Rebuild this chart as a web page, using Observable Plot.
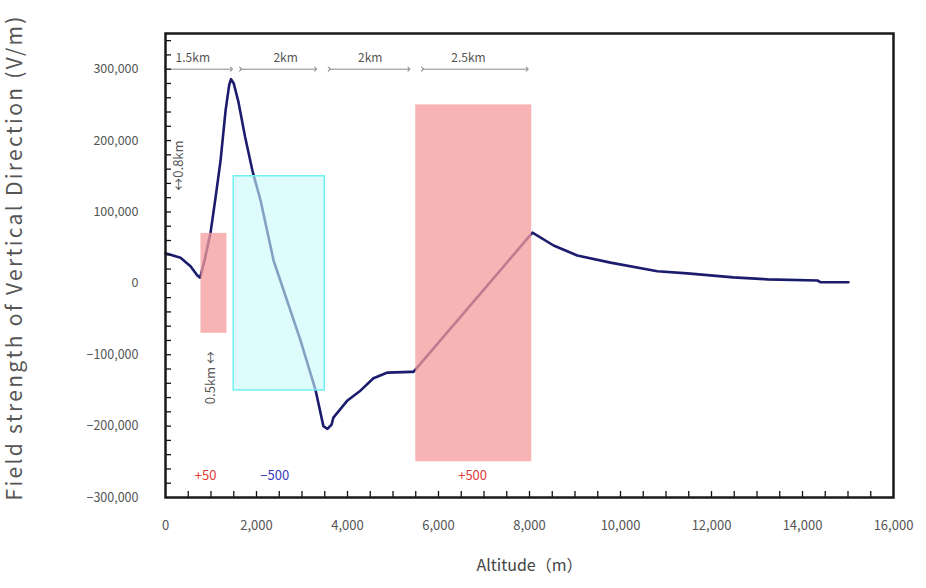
<!DOCTYPE html>
<html>
<head>
<meta charset="utf-8">
<script src="https://cdn.jsdelivr.net/npm/d3@7"></script>
<script src="https://cdn.jsdelivr.net/npm/@observablehq/plot@0.6"></script>
<style>
  html, body { margin: 0; padding: 0; background: #fff; }
  #chart svg { display: block; }
</style>
</head>
<body>
<div id="chart"></div>
<script>
// Altitude (m) and field strength (V/m)
const altitude = [0, 330, 550, 700, 760, 850, 990, 1100, 1210, 1320, 1400, 1440, 1500, 1600, 1750, 1910, 2090, 2375, 2967, 3300, 3470, 3560, 3650, 3690, 4000, 4290, 4570, 4880, 5380, 5450, 8065, 8530, 9050, 9780, 10810, 11470, 12480, 13230, 14330, 14400, 15010];
const fieldStrength = [42000, 36000, 24000, 11000, 8000, 30000, 71000, 120000, 172000, 242000, 278000, 286000, 280000, 255000, 205000, 158000, 116000, 32000, -80000, -150000, -200000, -204000, -198000, -188000, -164000, -150000, -133000, -125000, -124000, -124000, 71000, 53000, 39000, 29000, 17000, 14000, 8400, 5600, 4000, 1500, 1500];

// Charge regions (boxes)
const boxX1 = [780, 1500, 5500];
const boxX2 = [1350, 3500, 8050];
const boxY1 = [-70000, -150000, -250000];
const boxY2 = [70000, 150000, 250000];
const boxLabel = ["+50", "\u2212500", "+500"];
const boxLabelX = [880, 2400, 6750];
const boxLabelY = -270000;

// Distance arrows on top
const segStart = [0, 1650, 3600, 5650];
const segEnd = [1450, 3300, 5350, 7950];
const segLabel = ["1.5km", "2km", "2km", "2.5km"];
const segLabelX = [600, 2640, 4500, 6660];
const segY = 300000;
const segLabelY = 316000;

// Vertical distance notes
const noteText = ["\u21940.8km", "0.5km \u2194"];
const noteX = [285, 990];
const noteY = [165000, -132000];

const xTicks = d3.range(0, 16001, 2000);
const yTicks = d3.range(-300000, 300001, 100000);
const xMinor = d3.range(500, 16000, 500);
const yMinor = d3.range(-280000, 350000, 20000);

const series = altitude.map((a, i) => ({alt: a, field: fieldStrength[i]}));
const boxes = boxX1.map((x1, i) => ({x1, x2: boxX2[i], y1: boxY1[i], y2: boxY2[i], label: boxLabel[i], lx: boxLabelX[i]}));
const segs = segStart.map((s, i) => ({s, e: segEnd[i], label: segLabel[i], lx: segLabelX[i]}));
const notes = noteText.map((t, i) => ({t, x: noteX[i], y: noteY[i]}));

const font = "'Noto Sans CJK JP', 'Noto Sans', sans-serif";
const fmt = d3.format(",");
const W = 926, H = 588, ML = 165, MR = 33, MT = 33, MB = 91;
const FW = W - ML - MR, FH = H - MT - MB;

const chart = Plot.plot({
  width: W,
  height: H,
  marginLeft: ML,
  marginRight: MR,
  marginTop: MT,
  marginBottom: MB,
  style: {fontFamily: font, background: "#fff", overflow: "hidden"},
  x: {domain: [0, 16000]},
  y: {domain: [-300000, 350000]},
  marks: [
    Plot.line(series, {x: "alt", y: "field", stroke: "#1c1c6e", strokeWidth: 2.6}),
    Plot.rect(boxes.filter((d, i) => i !== 1), {x1: "x1", x2: "x2", y1: "y1", y2: "y2", fill: "#f69b9b", fillOpacity: 0.75}),
    Plot.rect(boxes.filter((d, i) => i === 1), {x1: "x1", x2: "x2", y1: "y1", y2: "y2", fill: "#c8fafa", fillOpacity: 0.6, stroke: "#70f0f0", strokeWidth: 1.5}),
    Plot.text(boxes, {x: "lx", y: () => boxLabelY, text: "label", fill: d => d.label.startsWith("+") ? "#e03a3a" : "#3a3ac0", fontSize: 13}),
    Plot.link(segs, {x1: "s", x2: "e", y1: () => segY, y2: () => segY, stroke: "#888", strokeWidth: 1, markerStart: "arrow", markerEnd: "arrow"}),
    Plot.text(segs, {x: "lx", y: () => segLabelY, text: "label", fill: "#555", fontSize: 12}),
    Plot.text(notes, {x: "x", y: "y", text: "t", rotate: -90, fill: "#555", fontSize: 13}),
    Plot.tickX(xMinor, {x: d => d, insetTop: FH - 6, stroke: "#111", strokeWidth: 1.3}),
    Plot.tickY(yMinor, {y: d => d, insetRight: FW - 6, stroke: "#111", strokeWidth: 1.3}),
    Plot.axisX({ticks: xTicks, tickSize: 0, tickPadding: 23, tickFormat: fmt, fontSize: 13, fill: "#555", label: null}),
    Plot.axisY({ticks: yTicks, tickSize: 0, tickPadding: 27, tickFormat: fmt, fontSize: 12.5, fill: "#555", label: null}),
    Plot.frame({stroke: "#1a1a1a", strokeWidth: 2.5}),
    Plot.text(["Field strength of Vertical Direction (V/m)"], {text: d => d, frameAnchor: "bottom-left", dx: -144, dy: 3, rotate: -90, textAnchor: "start", fontSize: 21, fill: "#555", className: "ytitle"}),
    Plot.text(["Altitude（m）"], {text: d => d, frameAnchor: "bottom", dy: 73, fontSize: 16, fill: "#444"})
  ]
});
const yt = chart.querySelector(".ytitle text");
if (yt) { yt.setAttribute("textLength", "484"); yt.setAttribute("lengthAdjust", "spacing"); }
document.getElementById("chart").appendChild(chart);
</script>
</body>
</html>
